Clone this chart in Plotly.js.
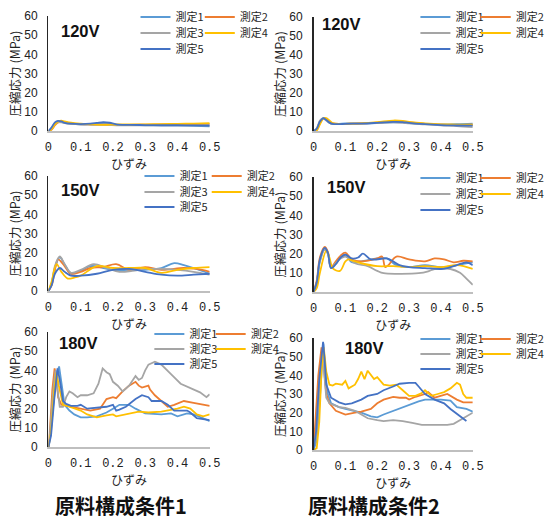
<!DOCTYPE html>
<html>
<head>
<meta charset="utf-8">
<script src="https://cdn.plot.ly/plotly-3.0.1.min.js"></script>
<style>html,body{margin:0;padding:0;background:#fff;}#chart{width:550px;height:521px;}</style>
</head>
<body>
<div id="chart"></div>
<script>
// ---------- labels ----------
const seriesNames = ['測定1', '測定2', '測定3', '測定4', '測定5'];
const seriesColors = ['#5B9BD5', '#ED7D31', '#A5A5A5', '#FFC000', '#4472C4'];
const voltages = ['120V', '120V', '150V', '150V', '180V', '180V'];
const conditions = ['原料構成条件1', '原料構成条件2'];
const xTickVals = [0, 0.1, 0.2, 0.3, 0.4, 0.5];
const xTickText = ['0', '0.1', '0.2', '0.3', '0.4', '0.5'];
const yTickVals = [0, 10, 20, 30, 40, 50, 60];
const xTitle = 'ひずみ';
const yTitle = '圧縮応力 (MPa)';

// ---------- 120V 条件1 ----------
const x120a = [0, 0.01, 0.02, 0.03, 0.04, 0.05, 0.07, 0.1, 0.13, 0.15, 0.17, 0.19, 0.21, 0.25, 0.3, 0.35, 0.4, 0.45, 0.5];
const y120a1 = [0, 1.5, 4, 5, 4.8, 4.2, 3.8, 3.5, 3.6, 3.8, 4, 3.8, 3.3, 3.1, 3.0, 3.0, 2.9, 2.7, 2.4];
const y120a2 = [0, 0.8, 3, 4.5, 4.8, 4.5, 4.0, 3.6, 3.4, 3.3, 3.3, 3.3, 3.2, 3.2, 3.3, 3.4, 3.5, 3.6, 3.7];
const y120a3 = [0, 1.2, 3.5, 4.6, 4.5, 4.1, 3.7, 3.4, 3.3, 3.2, 3.2, 3.1, 3.0, 2.9, 2.9, 2.9, 2.9, 2.9, 3.0];
const y120a4 = [0, 1, 3.5, 5, 5.4, 5, 4.3, 3.8, 3.5, 3.3, 3.2, 3.3, 3.4, 3.4, 3.5, 3.6, 3.7, 3.9, 4.1];
const y120a5 = [0, 2, 4.5, 5.3, 5, 4.3, 3.8, 3.6, 3.8, 4.2, 4.6, 4.3, 3.5, 3.2, 3.1, 3.0, 3.0, 2.9, 2.8];

// ---------- 120V 条件2 ----------
const x120b = [0, 0.01, 0.02, 0.03, 0.04, 0.05, 0.06, 0.08, 0.1, 0.15, 0.2, 0.25, 0.28, 0.3, 0.35, 0.4, 0.45, 0.5];
const y120b1 = [0, 1, 5, 6.8, 6, 4.5, 3.8, 3.8, 4, 4, 4.2, 4.6, 4.5, 4.2, 3.8, 3.5, 3.6, 3.9];
const y120b2 = [0, 0.5, 4, 6.5, 6.3, 4.8, 4, 3.7, 3.8, 4, 4.4, 5, 5, 4.5, 3.8, 3.3, 3.2, 3.3];
const y120b3 = [0, 1.5, 5.5, 6.8, 5.5, 4.3, 3.7, 3.6, 3.8, 3.9, 4.2, 4.5, 4.3, 4, 3.5, 3, 2.6, 2.0];
const y120b4 = [0, 0.3, 3.5, 6.5, 6.8, 5.5, 4.2, 3.7, 3.8, 4, 4.6, 5.5, 5.3, 4.8, 4, 3.5, 3.4, 3.3];
const y120b5 = [0, 1.2, 5, 6.7, 5.8, 4.4, 3.7, 3.6, 3.8, 3.9, 4.3, 4.8, 4.7, 4.3, 3.6, 3.1, 2.9, 2.8];

// ---------- 150V 条件1 ----------
const x150a1 = [0, 0.01, 0.02, 0.035, 0.05, 0.07, 0.1, 0.13, 0.17, 0.2, 0.25, 0.3, 0.35, 0.39, 0.42, 0.45, 0.5];
const y150a1 = [0, 4, 12, 17.5, 14, 9, 10.5, 13, 12, 11, 11, 11, 12, 14.5, 13.5, 12, 9];
const x150a2 = [0, 0.01, 0.02, 0.03, 0.05, 0.07, 0.1, 0.13, 0.17, 0.21, 0.25, 0.3, 0.35, 0.42, 0.46, 0.5];
const y150a2 = [0, 3, 11, 16.5, 13, 9, 10, 12, 12.5, 14, 11, 12.5, 11, 12, 11.5, 10];
const x150a3 = [0, 0.01, 0.02, 0.035, 0.05, 0.07, 0.1, 0.14, 0.18, 0.22, 0.26, 0.3, 0.35, 0.4, 0.45, 0.5];
const y150a3 = [0, 4, 13, 18, 14, 9.5, 11, 14, 12, 10, 10.5, 11.5, 11.5, 11, 10, 8.5];
const x150a4 = [0, 0.01, 0.025, 0.04, 0.06, 0.08, 0.1, 0.15, 0.2, 0.25, 0.3, 0.35, 0.4, 0.45, 0.5];
const y150a4 = [0, 5, 14, 10, 6.5, 7, 8, 13, 12, 12, 12, 9.5, 11, 12, 12.5];
const x150a5 = [0, 0.01, 0.02, 0.035, 0.05, 0.07, 0.1, 0.15, 0.2, 0.25, 0.3, 0.35, 0.4, 0.45, 0.5];
const y150a5 = [0, 3, 9, 12, 10, 8, 8, 9, 11, 11.5, 10, 8.5, 8, 8.5, 9];

// ---------- 150V 条件2 ----------
const x150b1 = [0, 0.01, 0.02, 0.035, 0.045, 0.055, 0.07, 0.085, 0.1, 0.12, 0.15, 0.2, 0.23, 0.26, 0.3, 0.35, 0.4, 0.45, 0.48, 0.5];
const y150b1 = [0, 5, 16, 22.5, 20, 13, 15, 18, 19.5, 15.5, 16, 17.5, 17.5, 14, 13, 14, 13, 14, 15, 15.5];
const x150b2 = [0, 0.01, 0.02, 0.035, 0.045, 0.055, 0.07, 0.085, 0.1, 0.12, 0.15, 0.2, 0.215, 0.225, 0.235, 0.26, 0.3, 0.35, 0.38, 0.41, 0.44, 0.47, 0.5];
const y150b2 = [0, 6, 18, 23.5, 21, 13, 16, 19, 20.5, 17, 16, 17.5, 18.5, 13, 14, 18.5, 17, 16, 17.5, 17, 15.5, 16.3, 16];
const x150b3 = [0, 0.01, 0.02, 0.035, 0.045, 0.055, 0.07, 0.085, 0.1, 0.13, 0.17, 0.2, 0.22, 0.27, 0.33, 0.36, 0.38, 0.43, 0.46, 0.48, 0.5];
const y150b3 = [0, 5, 16, 22, 20, 12.5, 15, 17.5, 18.5, 15, 13.5, 11, 9.8, 9.5, 9.8, 10.8, 12, 12, 10, 7, 3.7];
const x150b4 = [0, 0.01, 0.02, 0.04, 0.05, 0.06, 0.083, 0.1, 0.11, 0.12, 0.15, 0.2, 0.25, 0.3, 0.35, 0.4, 0.45, 0.5];
const y150b4 = [0, 2, 10, 21.5, 18, 12.5, 11, 16, 17, 16.5, 15, 13.5, 13.5, 13, 13.5, 13, 14, 12];
const x150b5 = [0, 0.01, 0.02, 0.035, 0.045, 0.055, 0.07, 0.085, 0.1, 0.12, 0.14, 0.155, 0.18, 0.23, 0.25, 0.27, 0.3, 0.35, 0.4, 0.42, 0.45, 0.48, 0.5];
const y150b5 = [0, 5, 17, 23, 20.5, 12.5, 14.5, 18, 19.5, 17.5, 18, 20, 17, 17.5, 16, 14, 13, 12.5, 12, 12.5, 14, 15.5, 14];

// ---------- 180V 条件1 ----------
const x180a1 = [0, 0.005, 0.015, 0.025, 0.033, 0.04, 0.05, 0.065, 0.08, 0.1, 0.12, 0.15, 0.18, 0.2, 0.22, 0.25, 0.27, 0.3, 0.35, 0.38, 0.4, 0.43, 0.45, 0.48, 0.5];
const y180a1 = [0, 5, 22, 38, 42, 33, 22, 19, 17, 15.5, 15.5, 16, 18, 20, 22, 22, 20, 17.5, 17, 17.5, 16, 17.5, 17, 15, 13.5];
const x180a2 = [0, 0.005, 0.012, 0.019, 0.025, 0.03, 0.04, 0.07, 0.1, 0.13, 0.16, 0.18, 0.2, 0.21, 0.23, 0.25, 0.27, 0.28, 0.29, 0.31, 0.315, 0.33, 0.35, 0.37, 0.39, 0.42, 0.45, 0.48, 0.5];
const y180a2 = [0, 10, 30, 41, 36, 26, 22, 21, 20, 19, 20, 25, 26, 25.5, 29, 32, 34, 32, 31, 32, 30, 27, 24, 21, 22, 24, 23, 22, 21.5];
const x180a3 = [0, 0.005, 0.015, 0.022, 0.028, 0.035, 0.045, 0.055, 0.065, 0.075, 0.09, 0.1, 0.12, 0.14, 0.155, 0.168, 0.18, 0.19, 0.2, 0.215, 0.23, 0.25, 0.27, 0.28, 0.29, 0.3, 0.31, 0.33, 0.35, 0.37, 0.38, 0.41, 0.43, 0.45, 0.47, 0.49, 0.5];
const y180a3 = [0, 8, 30, 40, 30, 21, 21, 26, 29, 28, 26, 27, 27, 28, 33, 41, 39, 38, 34, 32, 29, 32, 37, 35, 36, 40, 43, 44.5, 43, 40, 38, 33, 31.5, 30, 28.5, 26, 27.5];
const x180a4 = [0, 0.008, 0.018, 0.025, 0.032, 0.045, 0.065, 0.08, 0.1, 0.12, 0.15, 0.18, 0.2, 0.21, 0.25, 0.28, 0.31, 0.35, 0.4, 0.42, 0.44, 0.46, 0.48, 0.5];
const y180a4 = [0, 8, 30, 39, 32, 22, 21, 20, 19, 17, 15.5, 16.5, 17, 16, 17.5, 18.5, 18, 18.5, 20, 21, 20, 17, 16, 17];
const x180a5 = [0, 0.008, 0.018, 0.028, 0.035, 0.045, 0.055, 0.07, 0.09, 0.1, 0.12, 0.15, 0.18, 0.2, 0.21, 0.22, 0.24, 0.27, 0.29, 0.31, 0.32, 0.35, 0.37, 0.39, 0.43, 0.44, 0.46, 0.5];
const y180a5 = [0, 6, 25, 41, 35, 24, 22.5, 21.5, 21.5, 22, 20, 20.5, 21, 22, 19, 19.5, 21, 25, 27, 26, 24, 24, 22, 19, 19, 18, 15, 14];

// ---------- 180V 条件2 ----------
const x180b1 = [0, 0.01, 0.02, 0.027, 0.031, 0.036, 0.045, 0.055, 0.08, 0.1, 0.13, 0.15, 0.18, 0.2, 0.22, 0.25, 0.27, 0.3, 0.33, 0.35, 0.4, 0.43, 0.45, 0.48, 0.5];
const y180b1 = [0, 5, 28, 50, 57, 42, 30, 25, 23, 22, 21, 20, 18, 17.5, 19, 21, 22, 24, 26, 27, 27, 26.5, 23, 22, 20.5];
const x180b2 = [0, 0.005, 0.015, 0.025, 0.032, 0.04, 0.05, 0.07, 0.09, 0.1, 0.13, 0.15, 0.18, 0.2, 0.22, 0.25, 0.27, 0.29, 0.3, 0.32, 0.35, 0.36, 0.38, 0.4, 0.42, 0.45, 0.47, 0.5];
const y180b2 = [0, 12, 40, 55, 45, 30, 25, 21, 19.5, 19, 20, 20.5, 22, 25, 27, 28.5, 28, 28, 27, 28.5, 30, 31, 28, 29, 30, 27, 25.5, 25.5];
const x180b3 = [0, 0.008, 0.018, 0.028, 0.035, 0.04, 0.05, 0.08, 0.1, 0.13, 0.15, 0.17, 0.2, 0.22, 0.25, 0.28, 0.31, 0.34, 0.38, 0.42, 0.44, 0.46, 0.48, 0.5];
const y180b3 = [0, 8, 35, 52, 38, 28, 25, 23, 22.5, 21, 19, 17, 16, 15.5, 16, 15.5, 14.5, 13.5, 13.5, 13.5, 14, 16, 18, 20];
const x180b4 = [0, 0.01, 0.018, 0.025, 0.032, 0.04, 0.05, 0.06, 0.07, 0.09, 0.1, 0.11, 0.13, 0.14, 0.15, 0.16, 0.17, 0.19, 0.2, 0.22, 0.24, 0.26, 0.28, 0.3, 0.32, 0.34, 0.35, 0.37, 0.39, 0.41, 0.43, 0.45, 0.46, 0.47, 0.48, 0.5];
const y180b4 = [0, 1, 15, 42, 55, 42, 35, 34.5, 35.5, 35, 37, 33, 35, 38, 42, 38, 42.5, 38, 39, 35, 34.5, 35, 32, 29, 29, 30.5, 32, 29, 30, 31, 33, 36, 35, 30, 28, 28];
const x180b5 = [0, 0.008, 0.018, 0.026, 0.03, 0.035, 0.04, 0.055, 0.08, 0.1, 0.12, 0.15, 0.17, 0.2, 0.22, 0.25, 0.27, 0.3, 0.32, 0.33, 0.35, 0.38, 0.41, 0.43, 0.46, 0.48];
const y180b5 = [0, 10, 38, 54, 58, 48, 35, 28, 25.5, 24.5, 25, 27, 29, 30, 32, 34, 35.5, 36, 36, 34, 30, 27, 25, 22, 18, 15.5];

// ---------- assemble ----------
const panels = [
  {xs: [x120a, x120a, x120a, x120a, x120a], ys: [y120a1, y120a2, y120a3, y120a4, y120a5], smooth: true},
  {xs: [x120b, x120b, x120b, x120b, x120b], ys: [y120b1, y120b2, y120b3, y120b4, y120b5], smooth: true},
  {xs: [x150a1, x150a2, x150a3, x150a4, x150a5], ys: [y150a1, y150a2, y150a3, y150a4, y150a5], smooth: true},
  {xs: [x150b1, x150b2, x150b3, x150b4, x150b5], ys: [y150b1, y150b2, y150b3, y150b4, y150b5], smooth: true},
  {xs: [x180a1, x180a2, x180a3, x180a4, x180a5], ys: [y180a1, y180a2, y180a3, y180a4, y180a5], smooth: false},
  {xs: [x180b1, x180b2, x180b3, x180b4, x180b5], ys: [y180b1, y180b2, y180b3, y180b4, y180b5], smooth: false}
];

const W = 550, H = 521;
const px = v => v / W;
const py = v => 1 - v / H;

// plot area pixel boxes [left, right, top, bottom]
const boxes = [
  [49, 212, 16, 131], [317, 478, 17, 131],
  [49, 212, 176, 291], [317, 478, 177, 292],
  [49, 212, 332, 447], [317, 478, 338, 450]
];
// voltage label positions (left x, centre y)
const voltPos = [[60, 31], [324, 24], [60, 190], [329, 187], [58, 343], [347, 348]];
// legend: text x of the two columns and the three row centres
const legPos = [
  {cols: [177, 242], rows: [17, 33, 49]}, {cols: [460, 521], rows: [17, 33, 49]},
  {cols: [181, 249], rows: [176, 192, 207]}, {cols: [460, 521], rows: [178, 194, 210]},
  {cols: [191, 253], rows: [334, 349, 364]}, {cols: [460, 521], rows: [339, 354, 369]}
];
const rowOf = [0, 0, 1, 1, 2];
const colOf = [0, 1, 0, 1, 0];

const fontJP = 'Noto Sans CJK JP, sans-serif';
const data = [];
const layout = {
  width: W, height: H, autosize: false,
  margin: {l: 0, r: 0, t: 0, b: 0},
  paper_bgcolor: '#ffffff', plot_bgcolor: '#ffffff',
  showlegend: true,
  annotations: [], hovermode: false
};

panels.forEach((p, k) => {
  const n = k + 1;
  const xa = n === 1 ? 'x' : 'x' + n;
  const ya = n === 1 ? 'y' : 'y' + n;
  const b = boxes[k];
  layout[n === 1 ? 'xaxis' : 'xaxis' + n] = {
    domain: [px(b[0]), px(b[1])], anchor: ya,
    range: [0, 0.5], tickmode: 'array', tickvals: xTickVals, ticktext: xTickText,
    showgrid: false, zeroline: false, showline: true, linecolor: '#bfbfbf', linewidth: 2,
    ticks: '', ticklabelstandoff: 4,
    tickfont: {family: 'Liberation Mono, monospace', size: 12, color: '#222'},
    title: {text: xTitle, font: {family: fontJP, size: 12, color: '#222'}, standoff: 2},
    fixedrange: true
  };
  layout[n === 1 ? 'yaxis' : 'yaxis' + n] = {
    domain: [py(b[3]), py(b[2])], anchor: xa,
    range: [0, 60], tickmode: 'array', tickvals: yTickVals,
    showgrid: false, zeroline: false, showline: true, linecolor: '#262626', linewidth: 1.5,
    ticks: '', ticklabelstandoff: 7,
    tickfont: {family: 'Liberation Sans, sans-serif', size: 12, color: '#222'},
    title: {text: yTitle, font: {family: fontJP, size: 12.5, color: '#222'}, standoff: 0},
    fixedrange: true
  };
  for (let s = 0; s < 5; s++) {
    const lid = k * 5 + s + 1;
    const lname = lid === 1 ? 'legend' : 'legend' + lid;
    layout[lname] = {
      orientation: 'h', x: px(legPos[k].cols[colOf[s]] - 40), xanchor: 'left',
      y: py(legPos[k].rows[rowOf[s]]), yanchor: 'middle',
      bgcolor: 'rgba(0,0,0,0)', borderwidth: 0,
      font: {family: fontJP, size: 11, color: '#262626'}
    };
    data.push({
      type: 'scatter', mode: 'lines', name: seriesNames[s],
      x: p.xs[s], y: p.ys[s], xaxis: xa, yaxis: ya,
      legend: lname,
      line: {color: seriesColors[s], width: 1.8, shape: p.smooth ? 'spline' : 'linear', smoothing: 1},
      showlegend: true
    });
  }
  layout.annotations.push({
    text: voltages[k], xref: 'paper', yref: 'paper',
    x: px(voltPos[k][0]), y: py(voltPos[k][1]), xanchor: 'left', yanchor: 'middle',
    showarrow: false,
    font: {family: 'Liberation Sans, sans-serif', size: 16.5, color: '#111', weight: 'bold'}
  });
});

conditions.forEach((c, i) => {
  layout.annotations.push({
    text: c, xref: 'paper', yref: 'paper',
    x: px(i === 0 ? 122 : 378), y: py(505), xanchor: 'center', yanchor: 'middle',
    showarrow: false,
    font: {family: fontJP, size: 20, color: '#111', weight: 'bold'}
  });
});

Plotly.newPlot('chart', data, layout, {staticPlot: true, displayModeBar: false});
</script>
</body>
</html>
